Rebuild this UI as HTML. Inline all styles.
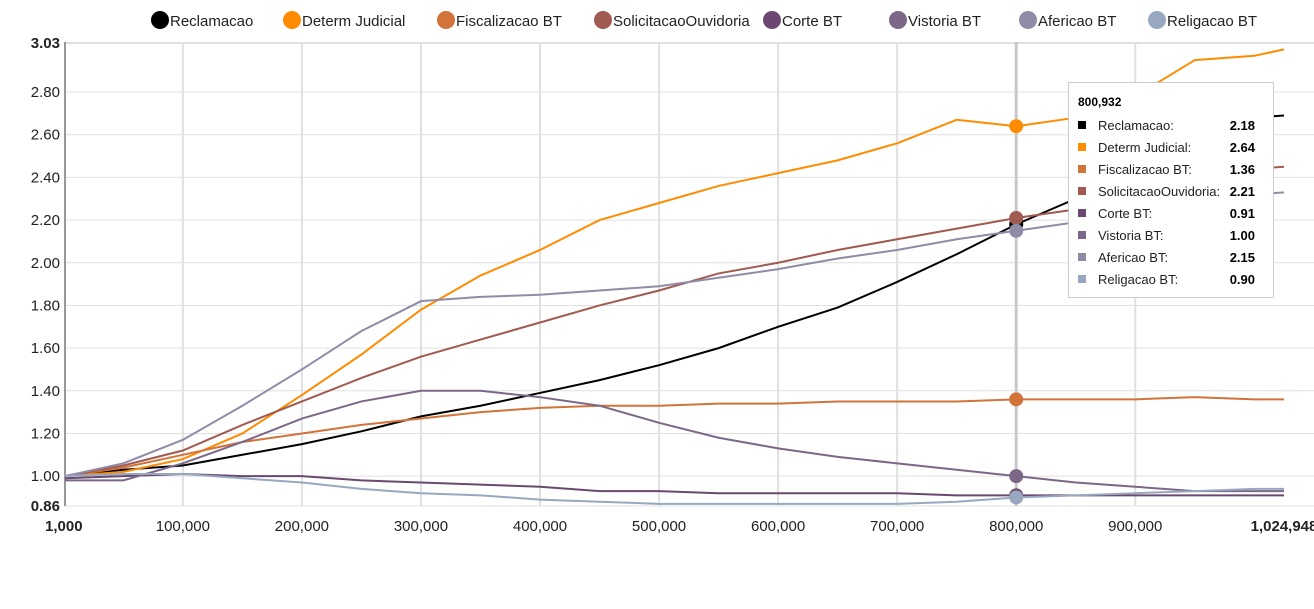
<!DOCTYPE html>
<html><head><meta charset="utf-8"><style>
body{margin:0;background:#fff;font-family:"Liberation Sans",sans-serif}
svg text{font-family:"Liberation Sans",sans-serif}
</style></head><body>
<svg width="1314" height="604" xmlns="http://www.w3.org/2000/svg">
<g id="legend"></g><g id="grid"></g><g id="lines"></g><g id="hover"></g><g id="tip"></g>
</svg>
<script>
const xs=[1000,50000,100000,150000,200000,250000,300000,350000,400000,450000,500000,550000,600000,650000,700000,750000,800000,850000,900000,950000,1000000,1024948];
const seriesNames=["Reclamacao","Determ Judicial","Fiscalizacao BT","SolicitacaoOuvidoria","Corte BT","Vistoria BT","Afericao BT","Religacao BT"];
const seriesColors=["#000000","#ff8c00","#d2733a","#a05a50","#6b4870","#7b6889","#908ca8","#98a8c0"];
const reclamacao=[1.00,1.03,1.05,1.10,1.15,1.21,1.28,1.33,1.39,1.45,1.52,1.60,1.70,1.79,1.91,2.04,2.18,2.30,2.45,2.58,2.68,2.69];
const determ=[1.00,1.02,1.08,1.20,1.38,1.57,1.78,1.94,2.06,2.20,2.28,2.36,2.42,2.48,2.56,2.67,2.64,2.68,2.78,2.95,2.97,3.00];
const fiscal=[1.00,1.04,1.10,1.16,1.20,1.24,1.27,1.30,1.32,1.33,1.33,1.34,1.34,1.35,1.35,1.35,1.36,1.36,1.36,1.37,1.36,1.36];
const solic=[1.00,1.05,1.12,1.24,1.35,1.46,1.56,1.64,1.72,1.80,1.87,1.95,2.00,2.06,2.11,2.16,2.21,2.25,2.32,2.38,2.44,2.45];
const corte=[0.99,1.00,1.01,1.00,1.00,0.98,0.97,0.96,0.95,0.93,0.93,0.92,0.92,0.92,0.92,0.91,0.91,0.91,0.91,0.91,0.91,0.91];
const vistoria=[0.98,0.98,1.06,1.16,1.27,1.35,1.40,1.40,1.37,1.33,1.25,1.18,1.13,1.09,1.06,1.03,1.00,0.97,0.95,0.93,0.93,0.93];
const afericao=[1.00,1.06,1.17,1.33,1.50,1.68,1.82,1.84,1.85,1.87,1.89,1.93,1.97,2.02,2.06,2.11,2.15,2.19,2.24,2.28,2.32,2.33];
const religacao=[1.00,1.01,1.01,0.99,0.97,0.94,0.92,0.91,0.89,0.88,0.87,0.87,0.87,0.87,0.87,0.88,0.90,0.91,0.92,0.93,0.94,0.94];
const allSeries=[reclamacao,determ,fiscal,solic,corte,vistoria,afericao,religacao];
const yTicks=[0.86,1.0,1.2,1.4,1.6,1.8,2.0,2.2,2.4,2.6,2.8,3.03];
const xTicks=[1000,100000,200000,300000,400000,500000,600000,700000,800000,900000,1024948];
const hoverIndex=16;const hoverLabel="800,932";
const tipValues=["2.18","2.64","1.36","2.21","0.91","1.00","2.15","0.90"];

const X0=65,X1=1284,Y0=506,Y1=43,xmin=1000,xmax=1024948,ymin=0.86,ymax=3.03;
const sx=v=>X0+(v-xmin)/(xmax-xmin)*(X1-X0);
const sy=v=>Y0-(v-ymin)/(ymax-ymin)*(Y0-Y1);
const NS="http://www.w3.org/2000/svg";
function mk(t,a,p){const e=document.createElementNS(NS,t);for(const k in a)e.setAttribute(k,a[k]);p.appendChild(e);return e;}
const grid=document.getElementById('grid');
yTicks.forEach((v,i)=>{
  const l=mk('line',{x1:X0,x2:1314,y1:sy(v),y2:sy(v),stroke:'#e0e0e0','stroke-width':(i==yTicks.length-1?2:1)},grid);
  
  
  const t=mk('text',{x:60,y:sy(v)+5,'text-anchor':'end','font-size':15,fill:'#222','font-weight':(i==0||i==yTicks.length-1)?'bold':'normal'},grid);
  t.textContent=v.toFixed(2);
  
  
});
xTicks.forEach((v,i)=>{
  if(i>0&&i<xTicks.length-1){const l=mk('line',{x1:sx(v),x2:sx(v),y1:Y1-1,y2:Y0,stroke:'#e0e0e0','stroke-width':2},grid);
  
  }
  const edge=i==0||i==xTicks.length-1;
  const t=mk('text',{x:i==0?sx(v)-20:sx(v),y:531,'text-anchor':i==0?'start':'middle','font-size':15,fill:'#222','font-weight':edge?'bold':'normal'},grid);
  t.textContent=v.toLocaleString('en-US');
  
  
});
const ax=mk('line',{x1:X0,x2:X0,y1:Y1-1,y2:Y0,stroke:'#333','stroke-width':1},grid);


const lines=document.getElementById('lines');
allSeries.forEach((s,k)=>{
  const p=mk('polyline',{points:s.map((v,i)=>sx(xs[i])+','+sy(v)).join(' '),fill:'none',stroke:seriesColors[k],'stroke-width':2},lines);
  
  
});
const hv=document.getElementById('hover');
const hx=sx(xs[hoverIndex]);
const cl=mk('line',{x1:hx,x2:hx,y1:Y1-1,y2:Y0,stroke:'#c8c8c8','stroke-width':3},hv);


allSeries.forEach((s,k)=>{
  const c=mk('circle',{cx:hx,cy:sy(s[hoverIndex]),r:7,fill:seriesColors[k]},hv);
  
  
});
const lg=document.getElementById('legend');
const legX=[160,292,446,603,772,898,1028,1157];
seriesNames.forEach((n,k)=>{
  const g=mk('g',{},lg);
  
  
  mk('circle',{cx:legX[k],cy:20,r:9,fill:seriesColors[k]},g);
  const t=mk('text',{x:legX[k]+10,y:26,'font-size':15,fill:'#222'},g);t.textContent=n;
});
const tp=document.getElementById('tip');


mk('rect',{x:1068.5,y:82.5,width:205,height:215,fill:'#fff',stroke:'#ccc'},tp);
const tt=mk('text',{x:1078,y:106,'font-size':12,'font-weight':'bold',fill:'#000'},tp);tt.textContent=hoverLabel;
seriesNames.forEach((n,k)=>{
  const y=130+k*22;
  mk('rect',{x:1078,y:y-9,width:8,height:8,fill:seriesColors[k]},tp);
  const a=mk('text',{x:1098,y:y,'font-size':13,fill:'#222'},tp);a.textContent=n+':';
  const b=mk('text',{x:1255,y:y,'font-size':13,'font-weight':'bold','text-anchor':'end',fill:'#000'},tp);b.textContent=tipValues[k];
});
</script>
</body></html>
